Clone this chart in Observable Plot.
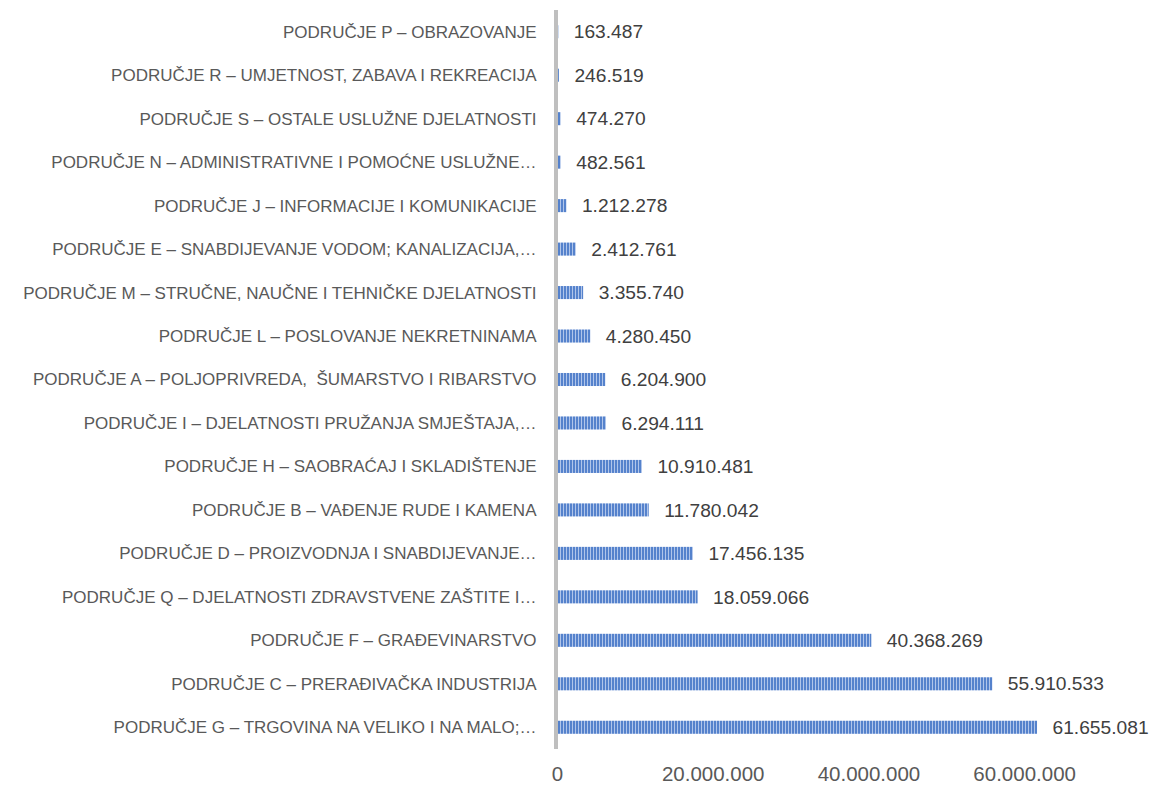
<!DOCTYPE html>
<html>
<head>
<meta charset="utf-8">
<script src="https://cdn.jsdelivr.net/npm/d3@7"></script>
<script src="https://cdn.jsdelivr.net/npm/@observablehq/plot@0.6"></script>
<style>
  html, body { margin: 0; padding: 0; background: #ffffff; }
</style>
</head>
<body>
<div id="chart"></div>
<script>
const categories = [
  "PODRUČJE P – OBRAZOVANJE",
  "PODRUČJE R – UMJETNOST, ZABAVA I REKREACIJA",
  "PODRUČJE S – OSTALE USLUŽNE DJELATNOSTI",
  "PODRUČJE N – ADMINISTRATIVNE I POMOĆNE USLUŽNE…",
  "PODRUČJE J – INFORMACIJE I KOMUNIKACIJE",
  "PODRUČJE E – SNABDIJEVANJE VODOM; KANALIZACIJA,…",
  "PODRUČJE M – STRUČNE, NAUČNE I TEHNIČKE DJELATNOSTI",
  "PODRUČJE L – POSLOVANJE NEKRETNINAMA",
  "PODRUČJE A – POLJOPRIVREDA,  ŠUMARSTVO I RIBARSTVO",
  "PODRUČJE I – DJELATNOSTI PRUŽANJA SMJEŠTAJA,…",
  "PODRUČJE H – SAOBRAĆAJ I SKLADIŠTENJE",
  "PODRUČJE B – VAĐENJE RUDE I KAMENA",
  "PODRUČJE D – PROIZVODNJA I SNABDIJEVANJE…",
  "PODRUČJE Q – DJELATNOSTI ZDRAVSTVENE ZAŠTITE I…",
  "PODRUČJE F – GRAĐEVINARSTVO",
  "PODRUČJE C – PRERAĐIVAČKA INDUSTRIJA",
  "PODRUČJE G – TRGOVINA NA VELIKO I NA MALO;…"
];
const values = [
  163487, 246519, 474270, 482561, 1212278, 2412761, 3355740, 4280450,
  6204900, 6294111, 10910481, 11780042, 17456135, 18059066, 40368269,
  55910533, 61655081
];
const xTicks = [0, 20000000, 40000000, 60000000];

const data = categories.map((c, i) => ({category: c, value: values[i]}));
const fmt = d3.formatLocale({decimal: ",", thousands: ".", grouping: [3], currency: ["", ""]}).format(",d");

const svg = Plot.plot({
  width: 1153,
  height: 789,
  marginLeft: 557,
  marginRight: 51,
  marginTop: 10,
  marginBottom: 40,
  style: {fontFamily: "'Liberation Sans', Arial, sans-serif", background: "#ffffff"},
  x: {domain: [0, 70000000], axis: null, label: null},
  y: {domain: categories, paddingInner: 0.70, paddingOuter: 0.35, round: false, axis: null, label: null},
  marks: [
    Plot.barX(data, {y: "category", x: "value", fill: "url(#stripes)"}),
    Plot.ruleX([0], {stroke: "#bfbfbf", strokeWidth: 4, dx: -1.5}),
    Plot.text(data, {y: "category", x: "value", text: d => fmt(d.value), textAnchor: "start", dx: 15, fontSize: 19.2, fill: "#404040"}),
    Plot.axisY({tickSize: 0, tickPadding: 21, fontSize: 17, color: "#595959", label: null}),
    Plot.axisX({ticks: xTicks, tickSize: 0, tickPadding: 17, fontSize: 20.5, tickFormat: d => fmt(d), color: "#595959", label: null})
  ]
});

const defs = d3.select(svg).insert("defs", ":first-child");
const pat = defs.append("pattern")
  .attr("id", "stripes")
  .attr("patternUnits", "userSpaceOnUse")
  .attr("width", 3)
  .attr("height", 20);
pat.append("rect").attr("width", 3).attr("height", 20).attr("fill", "#b0c5ea");
pat.append("rect").attr("width", 2).attr("height", 20).attr("fill", "#5582cc");

document.getElementById("chart").appendChild(svg);
</script>
</body>
</html>
